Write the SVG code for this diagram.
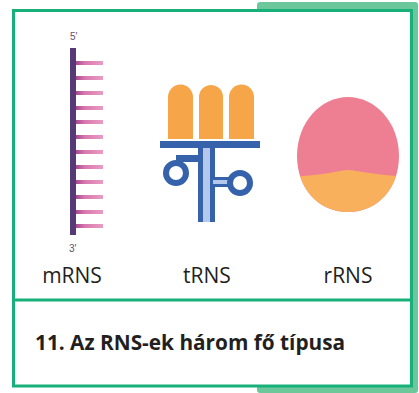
<svg xmlns="http://www.w3.org/2000/svg" width="419" height="393" viewBox="0 0 419 393">
  <style>
    .label { font-family: "Open Sans", "Noto Sans", "Liberation Sans", sans-serif; font-size: 21px; fill: #231f20; text-anchor: middle; }
    .caption { font-family: "Open Sans", "Noto Sans", "Liberation Sans", sans-serif; font-size: 20.8px; font-weight: bold; fill: #231f20; }
    .end { font-family: "Liberation Sans", sans-serif; font-size: 10px; fill: #5e506e; }
    .blue { fill: #3562aa; }
    .loop { fill: none; stroke: #3562aa; stroke-width: 6; }
    .finger { fill: #f6a649; }
  </style>
  <defs>
    <linearGradient id="rungGrad" x1="0" y1="0" x2="1" y2="0">
      <stop offset="0" stop-color="#a4448e"/>
      <stop offset="0.35" stop-color="#d878ad"/>
      <stop offset="1" stop-color="#ea9cc3"/>
    </linearGradient>
    <clipPath id="eggClip">
      <path d="M348,97 C375,97 399,122 399,156 C399,188 378,212 348,212 C318,212 297,188 297,156 C297,122 321,97 348,97 Z"/>
    </clipPath>
  </defs>

  <!-- frame: offset tab behind the bordered panel -->
  <g id="frame">
    <rect x="257" y="2" width="161" height="391" rx="3" fill="#6cc79b"/>
    <rect x="13.5" y="10.5" width="398" height="375.5" fill="#ffffff" stroke="#17b07b" stroke-width="3"/>
    <line x1="13.5" y1="300" x2="411.5" y2="300" stroke="#17b07b" stroke-width="3"/>
  </g>

  <!-- messenger RNA: backbone with bases -->
  <g id="mrns">
    <text class="end" x="70" y="40">5'</text>
    <g fill="url(#rungGrad)">
      <rect x="75" y="61" width="28" height="4"/>
      <rect x="75" y="76" width="28" height="4"/>
      <rect x="75" y="91" width="28" height="4"/>
      <rect x="75" y="106" width="28" height="4"/>
      <rect x="75" y="120" width="28" height="4"/>
      <rect x="75" y="135" width="28" height="4"/>
      <rect x="75" y="150" width="28" height="4"/>
      <rect x="75" y="165" width="28" height="4"/>
      <rect x="75" y="180" width="28" height="4"/>
      <rect x="75" y="195" width="28" height="4"/>
      <rect x="75" y="210" width="28" height="4"/>
      <rect x="75" y="224" width="28" height="4"/>
    </g>
    <rect x="70" y="48" width="6" height="187" fill="#553a76"/>
    <text class="end" x="69" y="252">3'</text>
    <text class="label" x="72" y="283">mRNS</text>
  </g>

  <!-- transfer RNA: cloverleaf -->
  <g id="trns">
    <path class="finger" d="M168,139 V97 A12.5,12.5 0 0 1 193,97 V139 Z"/>
    <path class="finger" d="M199,139 V97 A12,12 0 0 1 223,97 V139 Z"/>
    <path class="finger" d="M229,139 V97 A12.5,12.5 0 0 1 254,97 V139 Z"/>
    <rect class="blue" x="160" y="141" width="100" height="7"/>
    <rect x="198" y="148" width="17" height="74" fill="#b3c8ea"/>
    <rect class="blue" x="198" y="148" width="5" height="74"/>
    <rect class="blue" x="210" y="148" width="5" height="74"/>
    <rect class="blue" x="176" y="155" width="24" height="7"/>
    <circle class="loop" cx="176" cy="173" r="10"/>
    <rect x="213" y="178" width="19" height="8" fill="#b3c8ea"/>
    <rect class="blue" x="213" y="177" width="19" height="3"/>
    <rect class="blue" x="213" y="184" width="19" height="3"/>
    <circle class="loop" cx="240" cy="183" r="10"/>
    <text class="label" x="207" y="283">tRNS</text>
  </g>

  <!-- ribosomal RNA -->
  <g id="rrns">
    <g clip-path="url(#eggClip)">
      <rect x="290" y="90" width="120" height="130" fill="#ee7f93"/>
      <path d="M290,177 Q320,175 340,171 Q348,169 356,171 Q380,175 410,177 V220 H290 Z" fill="#f8b05c"/>
    </g>
    <text class="label" x="348" y="283">rRNS</text>
  </g>

  <g id="caption">
    <text class="caption" x="35" y="350">11. Az RNS-ek három fő típusa</text>
  </g>
</svg>
